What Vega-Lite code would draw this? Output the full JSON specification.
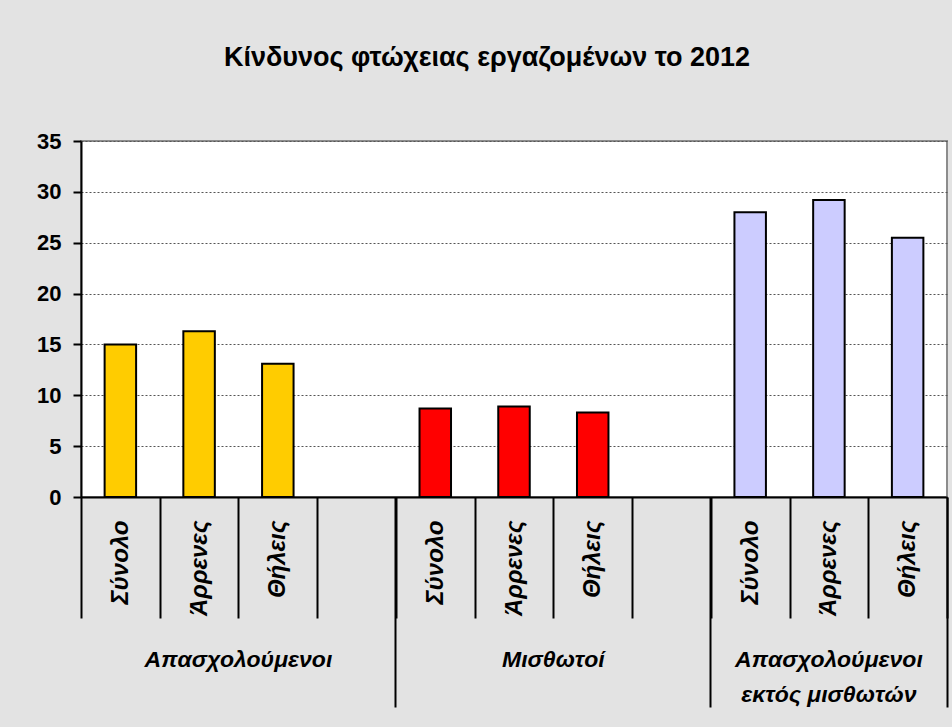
{
  "$schema": "https://vega.github.io/schema/vega-lite/v6.json",
  "width": 866,
  "height": 356,
  "autosize": "none",
  "padding": {"left": 81, "top": 141, "right": 5, "bottom": 230},
  "background": "#e3e3e3",
  "config": {
    "view": {"fill": "white", "stroke": "#8c8c8c", "strokeWidth": 2},
    "font": "Liberation Sans"
  },
  "title": {
    "text": "Κίνδυνος φτώχειας εργαζομένων το 2012",
    "fontSize": 27,
    "fontWeight": "bold",
    "font": "Liberation Sans",
    "color": "black",
    "anchor": "middle",
    "baseline": "alphabetic",
    "offset": 37,
    "dx": -27
  },
  "data": {
    "values": [
      {"slot": "A|Σύνολο", "group": "Απασχολούμενοι", "value": 15.0},
      {"slot": "A|Άρρενες", "group": "Απασχολούμενοι", "value": 16.3},
      {"slot": "A|Θήλεις", "group": "Απασχολούμενοι", "value": 13.1},
      {"slot": "B|Σύνολο", "group": "Μισθωτοί", "value": 8.7},
      {"slot": "B|Άρρενες", "group": "Μισθωτοί", "value": 8.9},
      {"slot": "B|Θήλεις", "group": "Μισθωτοί", "value": 8.3},
      {"slot": "C|Σύνολο", "group": "Απασχολούμενοι εκτός μισθωτών", "value": 28.0},
      {"slot": "C|Άρρενες", "group": "Απασχολούμενοι εκτός μισθωτών", "value": 29.2},
      {"slot": "C|Θήλεις", "group": "Απασχολούμενοι εκτός μισθωτών", "value": 25.5}
    ]
  },
  "encoding": {
    "y": {
      "field": "value",
      "type": "quantitative",
      "scale": {"domain": [0, 35], "nice": false},
      "axis": {
        "title": null,
        "values": [0, 5, 10, 15, 20, 25, 30, 35],
        "labelFontSize": 22,
        "labelFontWeight": "bold",
        "labelColor": "black",
        "labelPadding": 12,
        "tickSize": 8,
        "tickColor": "black",
        "tickWidth": 2,
        "domainColor": "black",
        "domainWidth": 2,
        "grid": true,
        "gridColor": "#555555",
        "gridDash": [2, 2],
        "gridWidth": 1
      }
    }
  },
  "layer": [
    {
      "mark": {"type": "bar", "width": {"band": 0.4}, "stroke": "black", "strokeWidth": 2},
      "encoding": {
        "x": {
          "field": "slot",
          "type": "nominal",
          "scale": {"domain": ["A|Σύνολο", "A|Άρρενες", "A|Θήλεις", "A|", "B|Σύνολο", "B|Άρρενες", "B|Θήλεις", "B|", "C|Σύνολο", "C|Άρρενες", "C|Θήλεις"], "paddingInner": 0, "paddingOuter": 0},
          "axis": {
            "orient": "bottom",
            "title": null,
            "tickBand": "extent",
            "tickSize": 121,
            "tickColor": "black",
            "tickWidth": 2,
            "domainColor": "black",
            "domainWidth": 2,
            "labelAngle": 270,
            "labelAlign": "right",
            "labelBaseline": "middle",
            "labelPadding": -98,
            "labelFontSize": 24,
            "labelFontWeight": "bold",
            "labelFontStyle": "italic",
            "labelColor": "black",
            "labelOverlap": false,
            "labelLimit": 400,
            "labelExpr": "split(datum.value, '|')[1]"
          }
        },
        "color": {
          "field": "group",
          "type": "nominal",
          "scale": {"domain": ["Απασχολούμενοι", "Μισθωτοί", "Απασχολούμενοι εκτός μισθωτών"], "range": ["#ffcc00", "#ff0000", "#ccccff"]},
          "legend": null
        }
      }
    },
    {
      "mark": {"type": "bar", "opacity": 0},
      "encoding": {
        "x": {
          "field": "slot",
          "type": "nominal",
          "scale": {"domain": ["A|Σύνολο", "A|Άρρενες", "A|Θήλεις", "A|", "B|Σύνολο", "B|Άρρενες", "B|Θήλεις", "B|", "C|Σύνολο", "C|Άρρενες", "C|Θήλεις"], "paddingInner": 0, "paddingOuter": 0},
          "axis": {
            "orient": "bottom",
            "title": null,
            "values": ["A|Σύνολο", "B|Σύνολο", "C|Σύνολο"],
            "bandPosition": 0,
            "tickSize": 210,
            "tickColor": "black",
            "tickWidth": 2,
            "domain": false,
            "labels": false
          }
        }
      }
    },
    {
      "mark": {"type": "bar", "opacity": 0},
      "encoding": {
        "x": {
          "field": "slot",
          "type": "nominal",
          "scale": {"domain": ["A|Σύνολο", "A|Άρρενες", "A|Θήλεις", "A|", "B|Σύνολο", "B|Άρρενες", "B|Θήλεις", "B|", "C|Σύνολο", "C|Άρρενες", "C|Θήλεις"], "paddingInner": 0, "paddingOuter": 0},
          "axis": {
            "orient": "bottom",
            "title": null,
            "values": ["C|Θήλεις"],
            "bandPosition": 1,
            "tickSize": 210,
            "tickColor": "black",
            "tickWidth": 2,
            "domain": false,
            "labels": false
          }
        }
      }
    },
    {
      "mark": {"type": "bar", "opacity": 0},
      "encoding": {
        "x": {
          "field": "slot",
          "type": "nominal",
          "scale": {"domain": ["A|Σύνολο", "A|Άρρενες", "A|Θήλεις", "A|", "B|Σύνολο", "B|Άρρενες", "B|Θήλεις", "B|", "C|Σύνολο", "C|Άρρενες", "C|Θήλεις"], "paddingInner": 0, "paddingOuter": 0},
          "axis": {
            "orient": "bottom",
            "title": null,
            "values": ["A|Θήλεις", "B|Θήλεις"],
            "ticks": false,
            "domain": false,
            "labelAngle": 0,
            "labelAlign": "center",
            "labelBaseline": "top",
            "labelPadding": 151,
            "labelOffset": -39.4,
            "labelFontSize": 23,
            "labelFontWeight": "bold",
            "labelFontStyle": "italic",
            "labelColor": "black",
            "labelOverlap": false,
            "labelLimit": 400,
            "labelExpr": "datum.value == 'A|Θήλεις' ? 'Απασχολούμενοι' : 'Μισθωτοί'"
          }
        }
      }
    },
    {
      "mark": {"type": "bar", "opacity": 0},
      "encoding": {
        "x": {
          "field": "slot",
          "type": "nominal",
          "scale": {"domain": ["A|Σύνολο", "A|Άρρενες", "A|Θήλεις", "A|", "B|Σύνολο", "B|Άρρενες", "B|Θήλεις", "B|", "C|Σύνολο", "C|Άρρενες", "C|Θήλεις"], "paddingInner": 0, "paddingOuter": 0},
          "axis": {
            "orient": "bottom",
            "title": null,
            "values": ["C|Άρρενες"],
            "ticks": false,
            "domain": false,
            "labelAngle": 0,
            "labelAlign": "center",
            "labelBaseline": "top",
            "labelPadding": 151,
            "labelLineHeight": 35,
            "labelFontSize": 23,
            "labelFontWeight": "bold",
            "labelFontStyle": "italic",
            "labelColor": "black",
            "labelOverlap": false,
            "labelLimit": 400,
            "labelExpr": "['Απασχολούμενοι', 'εκτός μισθωτών']"
          }
        }
      }
    }
  ],
  "resolve": {"axis": {"x": "independent"}}
}
